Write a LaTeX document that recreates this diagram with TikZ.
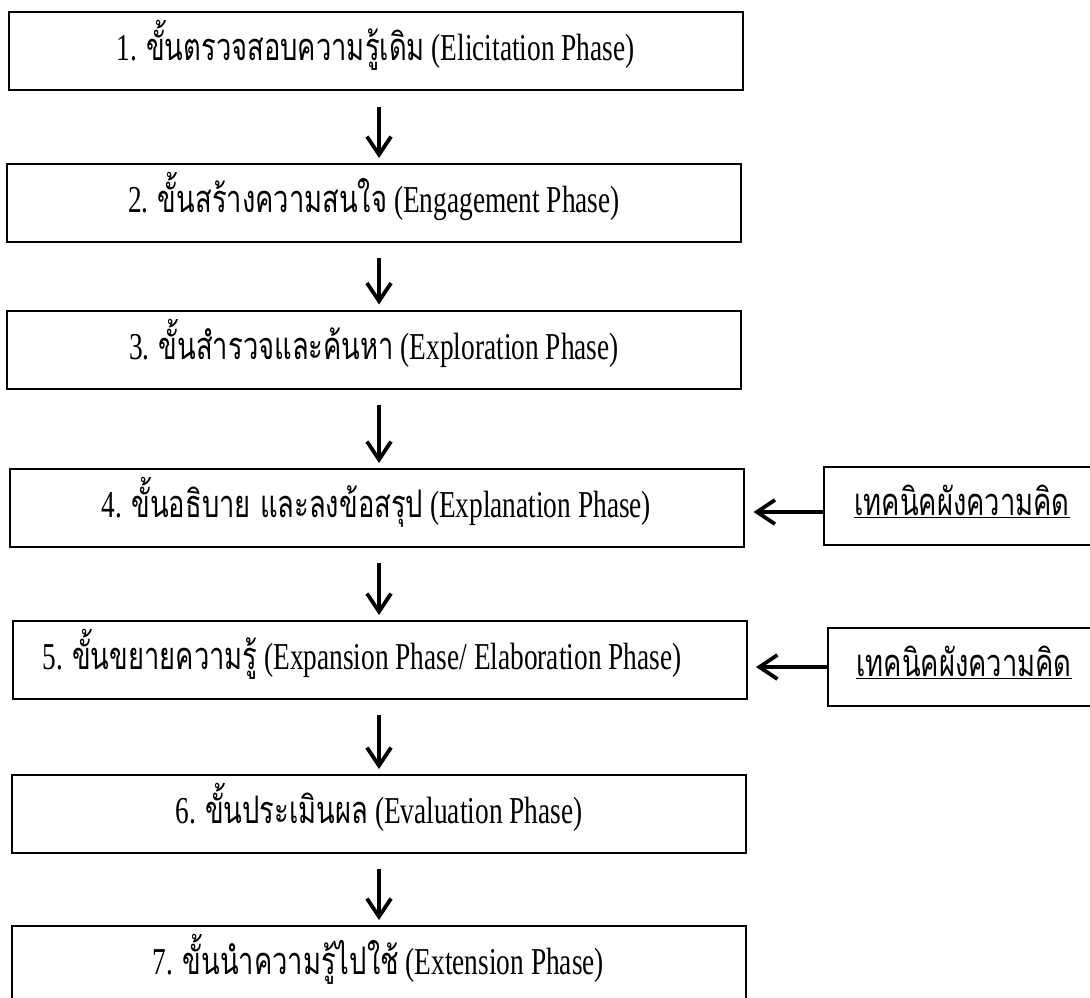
\documentclass[tikz,border=0pt]{standalone}
\usepackage{fontspec}
\setmainfont{Liberation Serif}[FakeStretch=0.72]
\newfontfamily\thaifont[Script=Thai,FakeStretch=0.72]{Loma}
\usetikzlibrary{arrows.meta}
\newcommand\thtext[1]{{\thaifont #1}}
\begin{document}
\begin{tikzpicture}[
  phase/.style={draw, line width=2pt, minimum width=734pt, minimum height=78pt,
    inner sep=0pt, text height=28pt, text depth=9pt,
    font=\fontsize{38}{40}\selectfont},
  tech/.style={draw, line width=2pt, minimum width=276pt, minimum height=78pt,
    inner sep=0pt, text height=28pt, text depth=9pt,
    font=\fontsize{38}{40}\selectfont},
  arr/.style={line width=3.8pt, -{Straight Barb[length=18pt,width=24pt,line width=3.8pt]}},
  varr/.style={arr, shorten <=15pt, shorten >=5pt}
]
\useasboundingbox (0,0) rectangle (1090pt,-998pt);
\node[phase] (b1) at (375.5pt,-51.5pt) {1. \thtext{ขั้นตรวจสอบความรู้เดิม} (Elicitation Phase)};
\node[phase] (b2) at (374pt,-203pt) {2. \thtext{ขั้นสร้างความสนใจ} (Engagement Phase)};
\node[phase] (b3) at (374pt,-349.5pt) {3. \thtext{ขั้นสำรวจและค้นหา} (Exploration Phase)};
\node[phase] (b4) at (376.5pt,-508pt) {4. \thtext{ขั้นอธิบาย และลงข้อสรุป} (Explanation Phase)};
\node[phase] (b5) at (380pt,-660pt) {5. \thtext{ขั้นขยายความรู้} (Expansion Phase/ Elaboration Phase)\hspace*{36pt}};
\node[phase] (b6) at (379pt,-814pt) {6. \thtext{ขั้นประเมินผล} (Evaluation Phase)};
\node[phase] (b7) at (378.5pt,-965pt) {7. \thtext{ขั้นนำความรู้ไปใช้} (Extension Phase)};
\node[tech] (t1) at (962pt,-506pt) {\thtext{\underline{เทคนิคผังความคิด}}};
\node[tech, minimum width=272pt] (t2) at (964pt,-667pt) {\thtext{\underline{เทคนิคผังความคิด}}};
\coordinate (ax) at (379pt,0pt);
\draw[varr] (b1.south -| ax) -- (b2.north -| ax);
\draw[varr] (b2.south -| ax) -- (b3.north -| ax);
\draw[varr] (b3.south -| ax) -- (b4.north -| ax);
\draw[varr] (b4.south -| ax) -- (b5.north -| ax);
\draw[varr] (b5.south -| ax) -- (b6.north -| ax);
\draw[varr] (b6.south -| ax) -- (b7.north -| ax);
\draw[arr, shorten >=9pt] ([yshift=-6pt]t1.west) -- ([yshift=-6pt]t1.west -| b4.east);
\draw[arr, shorten >=8pt] (t2.west) -- (t2.west -| b5.east);
\end{tikzpicture}
\end{document}
